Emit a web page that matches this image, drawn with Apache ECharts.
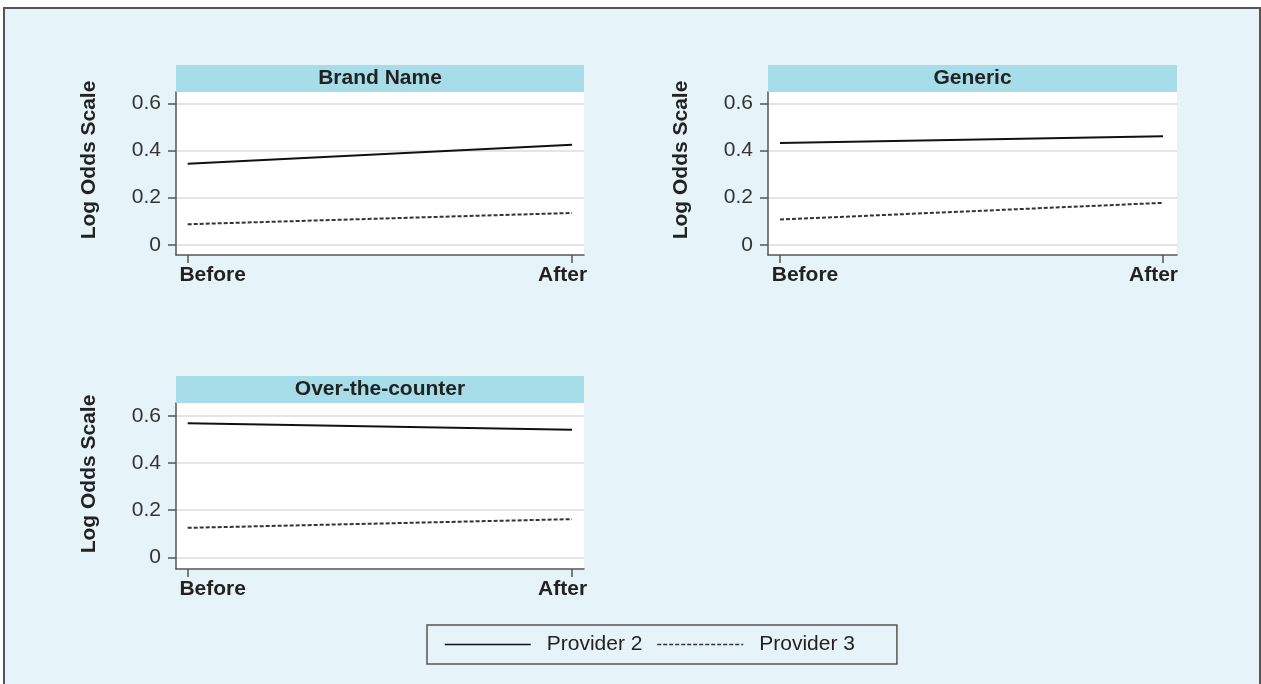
<!DOCTYPE html>
<html>
<head>
<meta charset="utf-8">
<script src="https://cdn.jsdelivr.net/npm/echarts@6/dist/echarts.min.js"></script>
<style>
  html, body { margin: 0; padding: 0; background: #fff; }
  #main { width: 1261px; height: 684px; }
</style>
</head>
<body>
<div id="main"></div>
<script>
// 数据
var periods = ['Before', 'After'];
var panelTitles = ['Brand Name', 'Generic', 'Over-the-counter'];
var seriesNames = ['Provider 2', 'Provider 3'];
var provider2 = [[0.344, 0.425], [0.432, 0.461], [0.569, 0.541]];
var provider3 = [[0.087, 0.135], [0.107, 0.178], [0.125, 0.162]];
var yTicks = [0, 0.2, 0.4, 0.6];

// 面板布局
var panels = [
    {left: 176, top: 92, width: 408, height: 163, xMin: -0.0304, xMax: 1.031, yMin: -0.0437, yMax: 0.649, namePad: 27},
    {left: 768, top: 92, width: 409, height: 163, xMin: -0.0313, xMax: 1.0366, yMin: -0.0437, yMax: 0.649, namePad: 27},
    {left: 176, top: 403, width: 408, height: 166, xMin: -0.0304, xMax: 1.031, yMin: -0.0496, yMax: 0.655, namePad: 24}
];

var font = 'Liberation Sans, Arial, sans-serif';
var grids = [], xAxes = [], yAxes = [], series = [], titles = [], graphics = [];

graphics.push({
    type: 'rect', z: -100,
    shape: {x: 4, y: 8, width: 1256, height: 700},
    style: {fill: '#e6f4fa', stroke: '#555', lineWidth: 2}
});

panels.forEach(function (p, i) {
    grids.push({
        left: p.left, top: p.top, width: p.width, height: p.height,
        show: true, backgroundColor: '#fff', borderWidth: 0
    });
    // 标题色条
    graphics.push({
        type: 'rect', z: 1,
        shape: {x: p.left, y: p.top - 27, width: p.width, height: 27},
        style: {fill: '#a6dde8'}
    });
    titles.push({
        text: panelTitles[i],
        left: p.left + p.width / 2,
        top: p.top - 27,
        textAlign: 'center',
        padding: 0,
        z: 10,
        textStyle: {fontFamily: font, fontSize: 21, fontWeight: 'bold', color: '#222', lineHeight: 26}
    });
    xAxes.push({
        type: 'value', gridIndex: i, min: p.xMin, max: p.xMax,
        axisLine: {onZero: false, lineStyle: {color: '#555', width: 1.5}},
        axisTick: {length: 8, customValues: [0, 1], lineStyle: {color: '#555', width: 1.5}},
        splitLine: {show: false},
        axisLabel: {
            customValues: [0, 1],
            margin: 10,
            formatter: function (v) {
                return v === 0 ? '{b|' + periods[0] + '}' : '{a|' + periods[1] + '}';
            },
            rich: {
                b: {fontFamily: font, fontSize: 21, fontWeight: 'bold', color: '#222', padding: [0, 0, 0, 50]},
                a: {fontFamily: font, fontSize: 21, fontWeight: 'bold', color: '#222', padding: [0, 19, 0, 0]}
            }
        }
    });
    yAxes.push({
        type: 'value', gridIndex: i, min: p.yMin, max: p.yMax,
        name: 'Log Odds Scale',
        nameLocation: 'middle',
        nameGap: 76,
        nameTextStyle: {fontFamily: font, fontSize: 21, fontWeight: 'bold', color: '#222', padding: [0, 0, 0, p.namePad]},
        axisLine: {show: true, onZero: false, lineStyle: {color: '#555', width: 1.5}},
        axisTick: {show: true, length: 8, customValues: yTicks, lineStyle: {color: '#555', width: 1.5}},
        axisLabel: {
            customValues: yTicks, margin: 15,
            fontFamily: font, fontSize: 21, color: '#333',
            formatter: function (v) { return v === 0 ? '0' : v.toFixed(1); }
        },
        splitLine: {show: true, lineStyle: {color: '#dcdcdc', width: 1.5}}
    });
    series.push({
        name: seriesNames[0], type: 'line', xAxisIndex: i, yAxisIndex: i,
        symbol: 'none', silent: true,
        data: [[0, provider2[i][0]], [1, provider2[i][1]]],
        lineStyle: {color: '#111', width: 2, type: 'solid'},
        itemStyle: {color: '#111'}
    });
    series.push({
        name: seriesNames[1], type: 'line', xAxisIndex: i, yAxisIndex: i,
        symbol: 'none', silent: true,
        data: [[0, provider3[i][0]], [1, provider3[i][1]]],
        lineStyle: {color: '#333', width: 2, type: [4, 2]},
        itemStyle: {color: '#333'}
    });
});

var myChart = echarts.init(document.getElementById('main'));
var option = {
    backgroundColor: '#fff',
    animation: false,
    title: titles,
    grid: grids,
    xAxis: xAxes,
    yAxis: yAxes,
    series: series,
    graphic: graphics,
    legend: {
        data: seriesNames,
        left: 427, top: 625,
        orient: 'horizontal',
        itemWidth: 86, itemHeight: 12,
        itemGap: 14,
        padding: [9, 42, 9, 17],
        borderColor: '#555', borderWidth: 1.5,
        selectedMode: false,
        itemStyle: {opacity: 0},
        lineStyle: {width: 1.5},
        textStyle: {fontFamily: font, fontSize: 21, color: '#222', padding: [0, 0, 0, 11]}
    }
};
myChart.setOption(option);
</script>
</body>
</html>
